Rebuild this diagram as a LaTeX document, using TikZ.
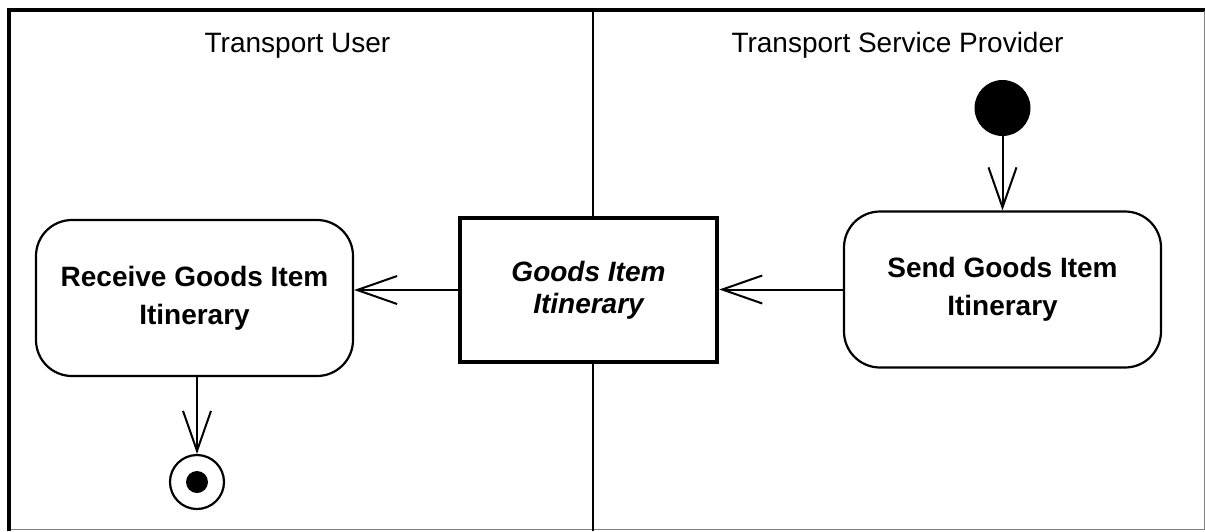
\documentclass[tikz,border=0pt]{standalone}
\usepackage{fontspec}
\setmainfont{Liberation Sans}
\usetikzlibrary{arrows.meta}
\tikzset{
  action/.style={draw, line width=2.2pt, rounded corners=36pt, minimum width=317pt, minimum height=156pt,
    inner sep=0pt, align=center, font=\fontsize{28}{38}\selectfont\bfseries},
  objbox/.style={draw, fill=white, line width=4.5pt, minimum width=257pt, minimum height=144pt,
    inner sep=0pt, align=center, font=\fontsize{28}{32}\selectfont\bfseries\itshape},
  flow/.style={line width=2pt, -{Straight Barb[length=40pt, width=28pt, line width=2pt]}},
  lane/.style={font=\fontsize{28}{32}\selectfont, anchor=base, inner sep=0pt},
}
\begin{document}
\begin{tikzpicture}[x=1pt, y=-1pt]
\useasboundingbox (0,0) rectangle (1205,531);
% frame
\draw[line width=4pt] (9,531) -- (9,9.5) -- (1205,9.5);
\draw[gray, line width=1.2pt] (1204.4,11) -- (1204.4,529.4) -- (11,529.4);
% divider
\draw[line width=2pt] (593,11) -- (593,531);
% lane titles
\node[lane] (lu) at (297.5,52) {Transport User};
\node[lane] (lp) at (897.5,52) {Transport Service Provider};
% nodes
\node[action] (recv) at (194.5,298) {Receive Goods Item\\Itinerary};
\node[action] (send) at (1002.5,289.5) {Send Goods Item\\Itinerary};
\node[objbox] (obj) at (588.5,290) {Goods Item\\Itinerary};
\node[circle, fill=black, minimum size=56pt, inner sep=0pt] (start) at (1002.5,108) {};
\node[circle, draw, line width=2.2pt, minimum size=54pt, inner sep=0pt] (final) at (197,482) {};
\node[circle, fill=black, minimum size=22pt, inner sep=0pt] (finaldot) at (final.center) {};
% flows
\draw[flow] (start) -- (start |- send.north);
\draw[flow] (send.west) -- (send.west -| obj.east);
\draw[flow] (obj.west) -- (obj.west -| recv.east);
\draw[flow] (final |- recv.south) -- (final.north);
\end{tikzpicture}
\end{document}
